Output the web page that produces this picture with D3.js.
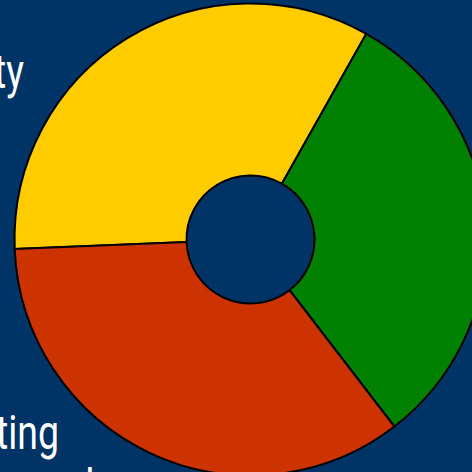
<!DOCTYPE html>
<html>
<head>
<meta charset="utf-8">
<script src="https://cdn.jsdelivr.net/npm/d3@7"></script>
<style>
	html, body { margin: 0; padding: 0; background: #003366; overflow: hidden; }
	text { font-family: Roboto, "Noto Sans", sans-serif; fill: #ffffff; font-size: 48px; }
</style>
</head>
<body>
<div id="chart"></div>
<script>
// slice data (share of the ring, in %)
var categories = ["Quality", "Low cost", "Marketing"];
var values = [33.8, 31.4, 34.8];
var colors = ["#ffcc00", "#008000", "#cc3300"];

var width = 472, height = 472;
var cx = 250.5, cy = 239.5;
var outerR = 236, innerR = 64;

var svg = d3.select("#chart").append("svg")
	.attr("width", width)
	.attr("height", height);

// labels sit behind the ring, mostly cropped off the left and bottom edges
// (the source font is a narrow face, so squeeze Roboto horizontally)
var labels = svg.append("g").attr("class", "labels");
function label(txt, x, y, anchor) {
	labels.append("text").text(txt)
		.attr("transform", `translate(${x}, ${y}) scale(0.78, 1)`)
		.attr("text-anchor", anchor);
}
label(categories[0], 24, 88, "end");
label(categories[2], 59, 449, "end");
label(categories[1], 85, 501, "start");

var pie = d3.pie()
	.sort(null)
	.startAngle(-92.3 * Math.PI / 180)
	.endAngle((360 - 92.3) * Math.PI / 180);

var arc = d3.arc().innerRadius(innerR).outerRadius(outerR);

var g = svg.append("g")
	.attr("transform", `translate(${cx}, ${cy})`);

g.selectAll("path")
	.data(pie(values))
	.enter().append("path")
	.attr("d", arc)
	.attr("fill", (d, i) => colors[i])
	.attr("stroke", "#000")
	.attr("stroke-width", 2);
</script>
</body>
</html>
